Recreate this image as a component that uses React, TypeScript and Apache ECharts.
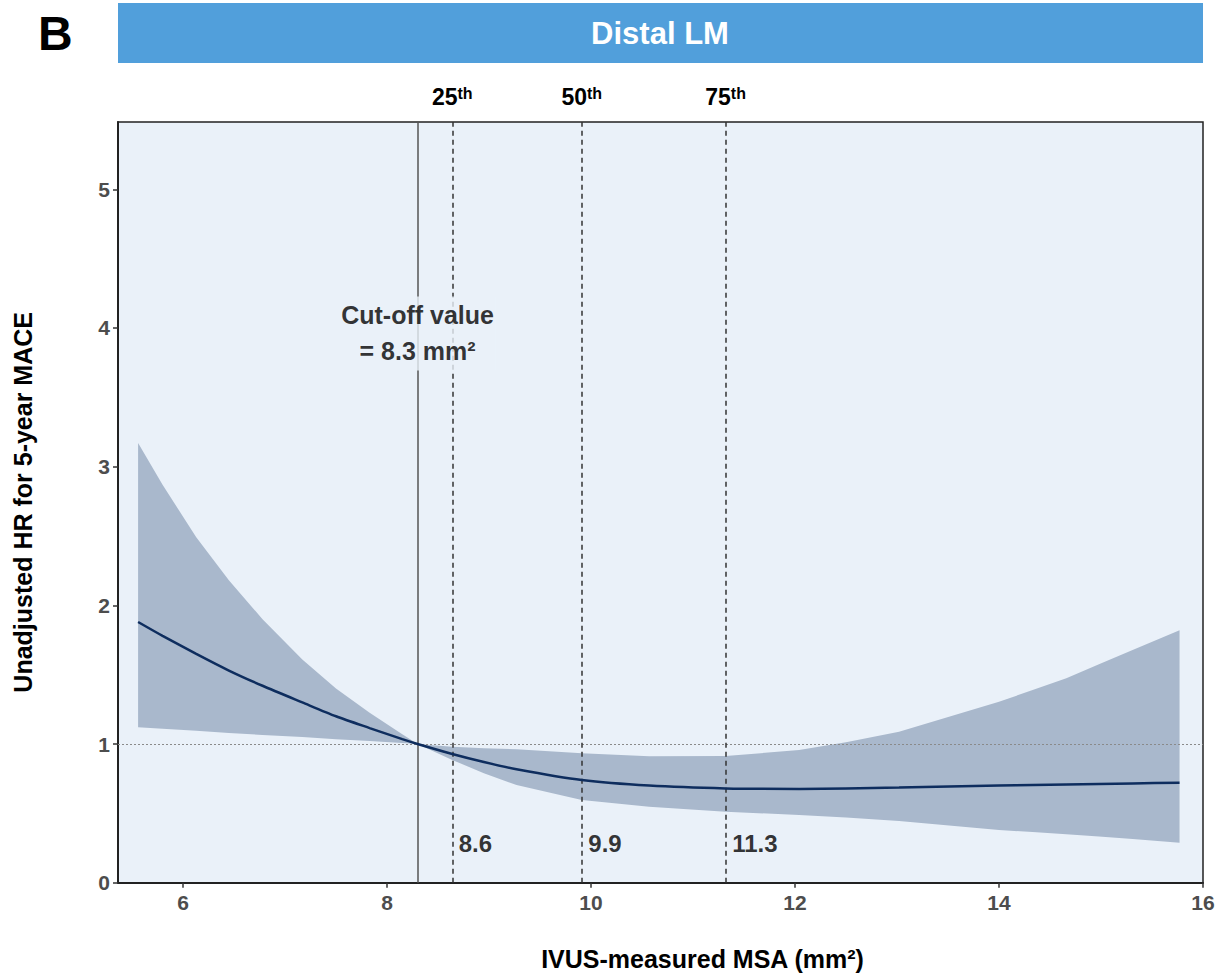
import React, { useEffect, useRef } from "react";
import * as echarts from "echarts";

// Spline-estimated hazard ratio and 95% CI against minimal stent area (mm²)
const msa = [
  5.56, 5.8, 6.13, 6.45, 6.78, 7.17, 7.5, 7.83, 8.15, 8.3,
  8.64, 8.95, 9.27, 9.91, 10.57, 11.32, 12.04, 12.5, 13.02, 13.51, 14.0, 14.33, 14.66, 14.98, 15.31, 15.77,
];
const hr = [
  1.88, 1.78, 1.65, 1.53, 1.42, 1.3, 1.2, 1.115, 1.035, 1.0,
  0.928, 0.87, 0.818, 0.74, 0.7, 0.68, 0.676, 0.68, 0.686, 0.693, 0.7, 0.704, 0.708, 0.712, 0.716, 0.721,
];
const hrLower = [
  1.12, 1.11, 1.095, 1.08, 1.065, 1.05, 1.035, 1.022, 1.008, 1.0,
  0.885, 0.79, 0.704, 0.596, 0.548, 0.512, 0.488, 0.47, 0.445, 0.413, 0.38, 0.365, 0.35, 0.333, 0.315, 0.288,
];
const hrUpper = [
  3.17, 2.87, 2.49, 2.18, 1.9, 1.61, 1.4, 1.225, 1.07, 1.0,
  0.98, 0.97, 0.962, 0.933, 0.912, 0.913, 0.957, 1.012, 1.089, 1.197, 1.305, 1.389, 1.474, 1.575, 1.678, 1.82,
];

const cutoff = 8.3;
const percentiles = [8.64, 9.91, 11.32];
const percentileNames = ["25", "50", "75"];

const xTicks = [6, 8, 10, 12, 14, 16];
const yTicks = [0, 1, 2, 3, 4, 5];

const X_MIN = 5.363;
const X_MAX = 16;
const Y_MAX = 5.485;

const PANEL_BG = "#eaf1f9";
const BAND = "#a9b8cc";
const CURVE = "#0e2d5e";
const FONT = "'Liberation Sans', Arial, Helvetica, sans-serif";

// vertical placement (in HR units) of the in-panel annotations
const VALUE_LABEL_Y = 0.28;
const CUTOFF_LABEL_Y = 3.96;

export default function App() {
  const ref = useRef<HTMLDivElement>(null);

  useEffect(() => {
    if (!ref.current) return;
    const chart = echarts.init(ref.current, null, { renderer: "svg" });

    const bandData = msa.map((x, i) => [x, hrLower[i], hrUpper[i]]);

    const option: any = {
      animation: false,
      backgroundColor: "#ffffff",
      textStyle: { fontFamily: FONT },
      grid: {
        left: 118,
        top: 122,
        width: 1085,
        height: 760.7,
        show: true,
        backgroundColor: PANEL_BG,
        borderColor: "#222",
        borderWidth: 1.5,
        containLabel: false,
      },
      graphic: [
        {
          type: "text",
          left: 38,
          top: 9,
          style: { text: "B", font: `bold 48px ${FONT}`, fill: "#000" },
        },
        {
          type: "rect",
          shape: { x: 118, y: 3, width: 1085, height: 60 },
          style: { fill: "#519fdb" },
        },
        {
          type: "text",
          x: 660,
          y: 33,
          style: {
            text: "Distal LM",
            font: `bold 31px ${FONT}`,
            fill: "#ffffff",
            align: "center",
            verticalAlign: "middle",
          },
        },
      ],
      xAxis: {
        type: "value",
        min: X_MIN,
        max: X_MAX,
        name: "IVUS-measured MSA (mm²)",
        nameLocation: "middle",
        nameGap: 64,
        nameTextStyle: {
          fontSize: 25,
          fontWeight: "bold",
          color: "#000",
          fontFamily: FONT,
          padding: [0, 0, 0, 84],
        },
        axisLine: { show: true, onZero: false, lineStyle: { color: "#222", width: 2 } },
        axisTick: { show: true, length: 5, lineStyle: { color: "#333", width: 1.5 }, customValues: xTicks },
        axisLabel: {
          customValues: xTicks,
          fontSize: 21,
          fontWeight: "bold",
          color: "#4d4d4d",
          margin: 9,
          fontFamily: FONT,
        },
        splitLine: { show: false },
      },
      yAxis: {
        type: "value",
        min: 0,
        max: Y_MAX,
        name: "Unadjusted HR for 5-year MACE",
        nameLocation: "middle",
        nameGap: 83,
        nameTextStyle: { fontSize: 25, fontWeight: "bold", color: "#000", fontFamily: FONT },
        axisLine: { show: true, onZero: false, lineStyle: { color: "#222", width: 2 } },
        axisTick: { show: true, length: 5, lineStyle: { color: "#333", width: 1.5 }, customValues: yTicks },
        axisLabel: {
          customValues: yTicks,
          fontSize: 21,
          fontWeight: "bold",
          color: "#4d4d4d",
          margin: 8,
          fontFamily: FONT,
        },
        splitLine: { show: false },
      },
      series: [
        {
          // 95% confidence band drawn as one polygon
          type: "custom",
          z: 1,
          clip: true,
          data: bandData,
          encode: { x: 0, y: [1, 2] },
          renderItem: (params: any, api: any) => {
            if (params.dataIndex !== 0) return null;
            const top = msa.map((x, i) => api.coord([x, hrUpper[i]]));
            const bottom = msa.map((x, i) => api.coord([x, hrLower[i]])).reverse();
            return {
              type: "polygon",
              shape: { points: top.concat(bottom) },
              style: { fill: BAND, stroke: null },
            };
          },
          silent: true,
        },
        {
          type: "line",
          z: 3,
          data: msa.map((x, i) => [x, hr[i]]),
          symbol: "none",
          smooth: 0.25,
          lineStyle: { color: CURVE, width: 2.5 },
          silent: true,
          markLine: {
            silent: true,
            symbol: ["none", "none"],
            animation: false,
            z: 2,
            data: [
              {
                yAxis: 1,
                lineStyle: { color: "#8a8a8a", width: 1, type: [2, 2] },
                label: { show: false },
              },
              {
                xAxis: cutoff,
                lineStyle: { color: "#555", width: 1.5, type: "solid" },
                label: { show: false },
              },
              ...percentiles.map((p, i) => ({
                xAxis: p,
                lineStyle: { color: "#333", width: 1.5, type: [5, 4] },
                label: {
                  show: true,
                  position: "end",
                  distance: 14,
                  formatter: `{a|${percentileNames[i]}}{b|th}`,
                  rich: {
                    a: {
                      fontSize: 23,
                      fontWeight: "bold",
                      color: "#000",
                      fontFamily: FONT,
                      lineHeight: 23,
                      verticalAlign: "bottom",
                    },
                    b: {
                      fontSize: 16,
                      fontWeight: "bold",
                      color: "#000",
                      fontFamily: FONT,
                      lineHeight: 16,
                      verticalAlign: "top",
                    },
                  },
                },
              })),
            ],
          },
        },
        {
          // percentile values printed next to the dashed lines
          type: "scatter",
          z: 5,
          silent: true,
          symbolSize: 1,
          itemStyle: { color: "transparent" },
          data: percentiles.map((p) => [p, VALUE_LABEL_Y]),
          label: {
            show: true,
            position: "right",
            distance: 6,
            formatter: (p: any) => p.value[0].toFixed(1),
            fontSize: 24,
            fontWeight: "bold",
            color: "#000",
            fontFamily: FONT,
          },
        },
        {
          // cut-off annotation, masking the guide lines behind it
          type: "scatter",
          z: 6,
          silent: true,
          symbolSize: 1,
          itemStyle: { color: "transparent" },
          data: [[cutoff, CUTOFF_LABEL_Y]],
          label: {
            show: true,
            position: "inside",
            formatter: () => `Cut-off value\n= ${cutoff} mm²`,
            fontSize: 25,
            fontWeight: "bold",
            color: "#000",
            fontFamily: FONT,
            lineHeight: 36,
            align: "center",
            backgroundColor: PANEL_BG,
            padding: [1, 2],
          },
        },
      ],
    };

    chart.setOption(option);
    return () => chart.dispose();
  }, []);

  return (
    <div
      ref={ref}
      style={{ position: "fixed", left: 0, top: 0, width: 1219, height: 977, background: "#fff" }}
    />
  );
}
